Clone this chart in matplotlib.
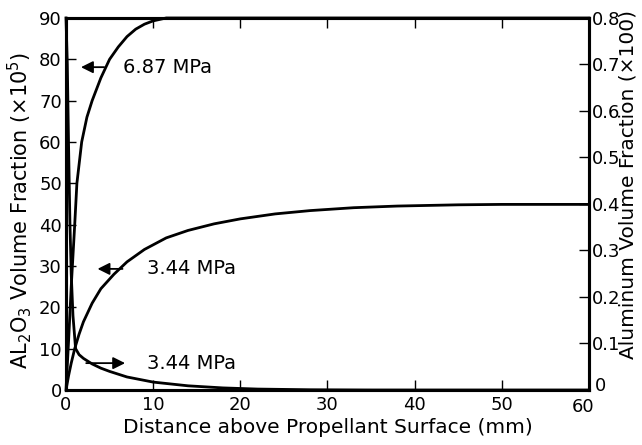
import matplotlib

matplotlib.use("Agg")
import matplotlib.pyplot as plt
import matplotlib.transforms as mtransforms

plt.rcParams["font.family"] = ["DejaVu Sans"]

# Al2O3 volume fraction (x1e5), left axis
dist_hi = [0, 0.3, 0.6, 1.0, 1.25, 1.8, 2.4, 3.0, 4.0, 5.0, 6.0, 7.0, 8.0, 9.0, 10.0, 11.5, 13.0, 60]
al2o3_hi = [0, 12, 25, 40, 50, 60, 66, 70, 75.5, 80, 83, 85.5, 87.3, 88.5, 89.3, 90, 90, 90]

dist_lo = [0, 0.3, 0.6, 1.0, 1.5, 2.0, 3.0, 4.0, 5.5, 7.0, 9.0, 11.5, 14.0, 17.0, 20.0, 24.0, 28.0, 33.0, 38.0, 45.0, 50.0, 60.0]
al2o3_lo = [0, 3.5, 6.5, 10, 13.5, 16.5, 21.0, 24.5, 28.0, 31.0, 34.0, 36.8, 38.6, 40.2, 41.4, 42.6, 43.4, 44.1, 44.5, 44.8, 44.9, 44.9]

# aluminum volume fraction (x100), right axis
dist_al = [0, 0.15, 0.3, 0.45, 0.6, 0.8, 1.1, 1.5, 2.0, 3.0, 4.0, 5.0, 7.0, 10.0, 14.0, 18.0, 22.0, 28.0, 35.0, 60.0]
alum_lo = [0.8, 0.70, 0.52, 0.36, 0.25, 0.16, 0.089, 0.076, 0.068, 0.056, 0.047, 0.040, 0.028, 0.017, 0.009, 0.0045, 0.002, 0.0005, 0.0, 0.0]

x_ticks = [0, 10, 20, 30, 40, 50, 60]
left_ticks = [0, 10, 20, 30, 40, 50, 60, 70, 80, 90]
right_ticks = [0, 0.1, 0.2, 0.3, 0.4, 0.5, 0.6, 0.7, 0.8]
right_labels = ["0", "0.1", "0.2", "0.3", "0.4", "0.5", "0.6", "0.7", "0.8"]

fig = plt.figure(figsize=(6.42, 4.45), dpi=100)
ax = fig.add_axes([0.1028, 0.1236, 0.8146, 0.836])
ax2 = ax.twinx()

lw = 2.0
ax.plot(dist_hi, al2o3_hi, color="black", lw=lw, clip_on=False)
ax.plot(dist_lo, al2o3_lo, color="black", lw=lw)
ax2.plot(dist_al, alum_lo, color="black", lw=lw, clip_on=False)

ax.set_xlim(0, 60)
ax.set_ylim(0, 90)
ax2.set_ylim(0, 0.8)

ax.set_xticks(x_ticks)
ax.set_yticks(left_ticks)
ax2.set_yticks(right_ticks)
ax2.set_yticklabels(right_labels)

ax.tick_params(axis="x", direction="in", top=True, length=7, width=1.0, labelsize=13, pad=4)
ax.tick_params(axis="y", direction="in", length=7, width=1.0, labelsize=13, pad=3)
ax2.tick_params(axis="y", direction="in", length=7, width=1.0, labelsize=13, pad=2)

# nudge the corner labels apart
last_x = ax.get_xticklabels()[-1]
last_x.set_transform(last_x.get_transform() + mtransforms.ScaledTranslation(-4 / 72, -2 / 72, fig.dpi_scale_trans))
first_r = ax2.get_yticklabels()[0]
first_r.set_transform(first_r.get_transform() + mtransforms.ScaledTranslation(2 / 72, 4 / 72, fig.dpi_scale_trans))

for a in (ax, ax2):
    for sp in a.spines.values():
        sp.set_linewidth(2.2)

ax.set_xlabel("Distance above Propellant Surface (mm)", fontsize=14.5, labelpad=1)
fig.text(0.031, 0.528, "AL$_2$O$_3$ Volume Fraction (×10$^5$)", rotation=90,
         ha="center", va="center", fontsize=15)
fig.text(0.978, 0.585, "Aluminum Volume Fraction (×100)", rotation=90,
         ha="center", va="center", fontsize=14.5)

arrow = dict(arrowstyle="-|>", color="black", lw=1.3, mutation_scale=18)
ax.annotate("", xy=(1.4, 78.1), xytext=(4.7, 78.1), arrowprops=arrow)
ax.text(6.5, 78.1, "6.87 MPa", fontsize=14, va="center")
ax.annotate("", xy=(3.3, 29.3), xytext=(6.8, 29.3), arrowprops=arrow)
ax.text(9.3, 29.3, "3.44 MPa", fontsize=14, va="center")
ax.annotate("", xy=(7.1, 6.5), xytext=(2.0, 6.5), arrowprops=arrow)
ax.text(9.3, 6.5, "3.44 MPa", fontsize=14, va="center")

fig.savefig("out.png", dpi=100)
